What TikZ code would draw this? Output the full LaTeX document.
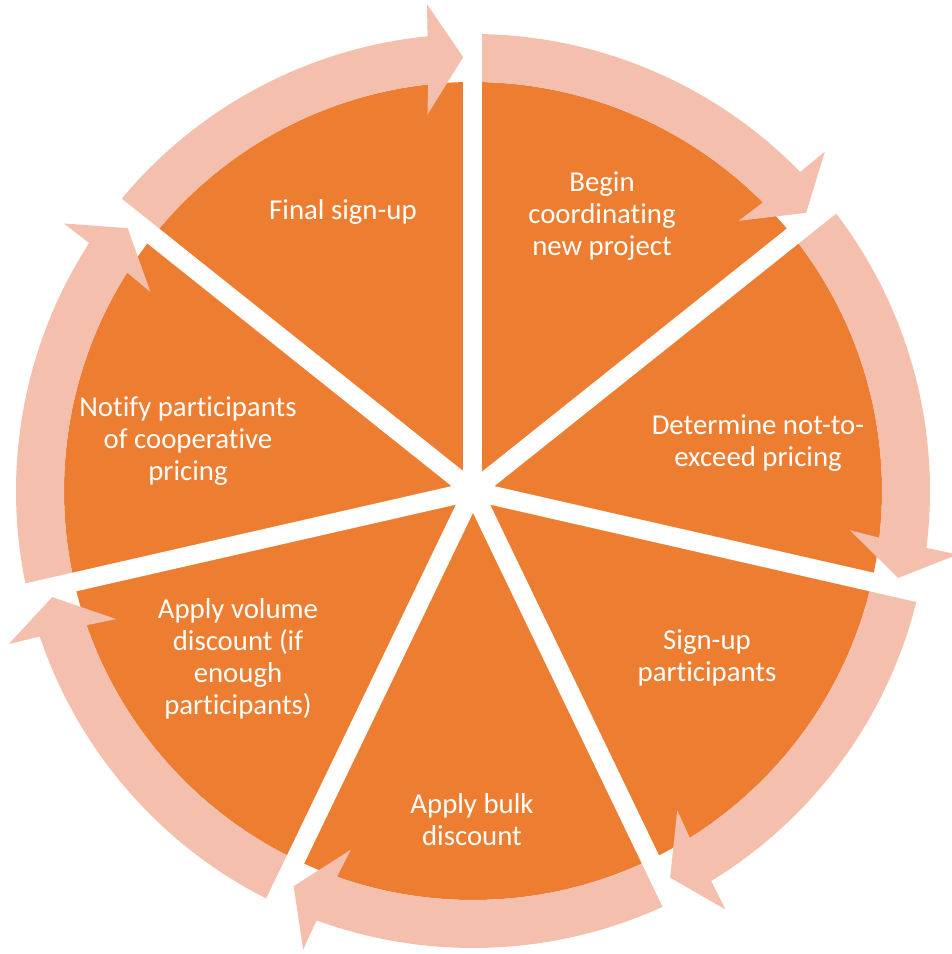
\documentclass[tikz,border=0pt]{standalone}
\usepackage{fontspec}
\setmainfont[Ligatures={NoCommon},RawFeature={-liga;-clig;-dlig}]{Carlito}
\definecolor{wedge}{RGB}{237,125,49}
\definecolor{arr}{RGB}{244,191,172}
\begin{document}
\begin{tikzpicture}[x=1pt,y=1pt,
  lbl/.style={text=white,align=center,font=\fontsize{28.8}{32}\selectfont,inner sep=0pt},
  gap/.style={white,line width=19pt}]
\useasboundingbox (-473,-463) rectangle (479,491);
\coordinate (c) at (0,0);
% pie
\fill[wedge] (c) circle[radius=409pt];
% circular arrows
\foreach \k in {0,...,6}{
  \pgfmathsetmacro{\a}{90-51.428571*\k}
  \pgfmathsetmacro{\b}{\a-51.428571}
  \fill[arr] (\a:457pt) arc[start angle=\a, end angle=\b+5.7, radius=457pt]
     -- (\b+5.4:489pt) -- (\b+1.3:434pt) -- (\b+6.9:379pt) -- (\b+6.3:409pt)
     arc[start angle=\b+6.3, end angle=\a, radius=409pt] -- cycle;
}
% white gaps between segments
\foreach \k in {0,...,6}{
  \coordinate (g\k) at (90-51.428571*\k:520pt);
  \draw[gap] (c) -- (g\k);
}
% labels
\node[lbl] (t1) at (-130,279) {Final sign-up};
\node[lbl] (t2) at (129,275) {Begin\\coordinating\\new project};
\node[lbl] (t3) at (285,48) {Determine not-to-\\exceed pricing};
\node[lbl] (t4) at (234,-167) {Sign-up\\participants};
\node[lbl] (t5) at (-1,-329) {Apply bulk\\discount};
\node[lbl] (t6) at (-235,-168) {Apply volume\\discount (if\\enough\\participants)};
\node[lbl] (t7) at (-285,50) {Notify participants\\of cooperative\\pricing};
\end{tikzpicture}
\end{document}
